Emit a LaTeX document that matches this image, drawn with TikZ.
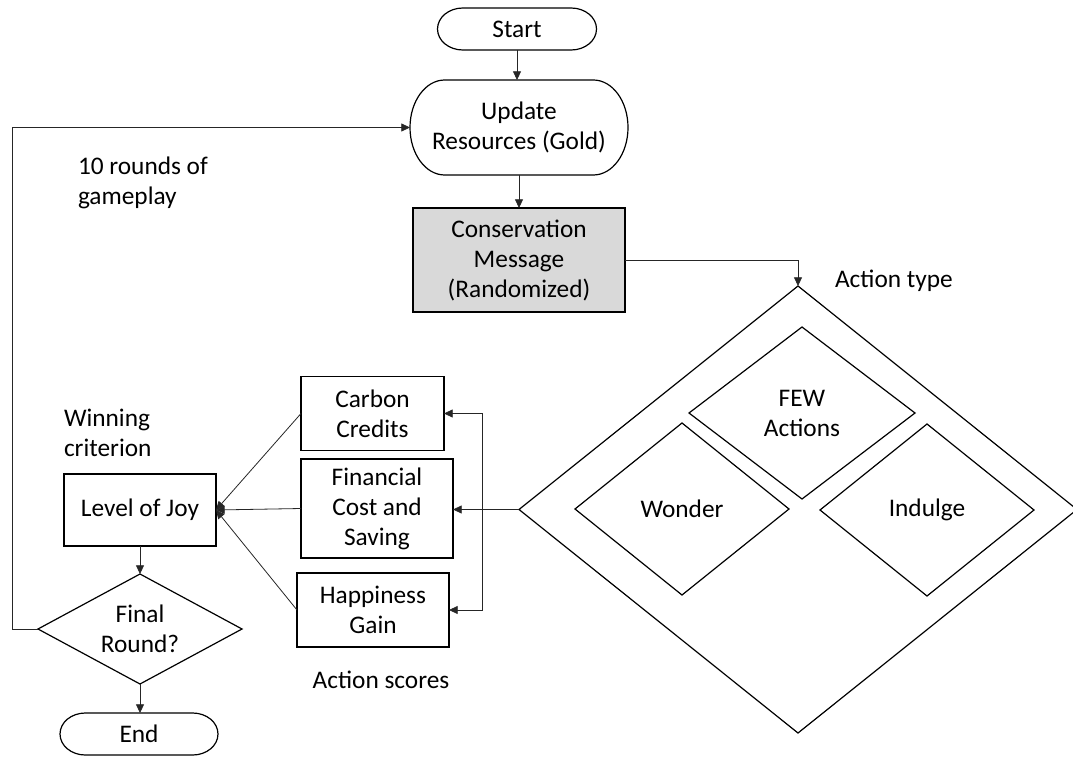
\documentclass[tikz,border=0pt]{standalone}
\usepackage{fontspec}
\setmainfont{Carlito}
\usetikzlibrary{shapes.geometric,arrows.meta,calc}
\definecolor{msgfill}{HTML}{D9D9D9}
\newcommand\termdraw[3]{%
  \draw[shp] ([xshift=#2]#1.north west) -- ([xshift=-#2]#1.north east)
    arc[start angle=90,end angle=-90,x radius=#2,y radius=#3]
    -- ([xshift=#2]#1.south west)
    arc[start angle=270,end angle=90,x radius=#2,y radius=#3] -- cycle;}
\begin{document}
\begin{tikzpicture}[x=0.75pt,y=-0.75pt,
  every node/.style={font=\fontsize{19}{22.5}\selectfont, align=center, inner sep=0pt, outer sep=0pt},
  shp/.style={draw=black, line width=0.9pt},
  rbox/.style={shp, rectangle},
  term/.style={rectangle},
  dia/.style={shp, diamond},
  conn/.style={line width=0.6pt, draw=black!85},
  arr/.style={conn, -{Triangle[length=6.5pt,width=6pt]}},
  lbl/.style={align=left}
]
\useasboundingbox (0,0) rectangle (1073,756);

% terminals and boxes
\node[term, minimum width=119.25pt, minimum height=31.5pt] (start) at (517,29) {Start};
\termdraw{start}{19pt}{15.75pt}
\node[term, minimum width=163.5pt, minimum height=71.25pt] (upd) at (519,127.5) {Update\\Resources (Gold)};
\termdraw{upd}{26pt}{35.625pt}
\node[rbox, fill=msgfill, minimum width=159pt, minimum height=78pt] (msg) at (519,260) {Conservation\\Message\\(Randomized)};

% action type diamond
\node[dia, minimum width=418.5pt, minimum height=335.25pt] (act) at (798,509.5) {};
\node[dia, shape aspect=1.3, minimum width=169.5pt, minimum height=129pt] (few) at (802,413) {FEW\\Actions};
\node[dia, shape aspect=1.25, minimum width=160.5pt, minimum height=129pt] (wonder) at (682,509) {Wonder};
\node[dia, shape aspect=1.25, minimum width=160.5pt, minimum height=129pt] (indulge) at (927,510) {Indulge};
\node[anchor=west] (atype) at (835,281) {Action type};

% score boxes
\node[rbox, minimum width=107.25pt, minimum height=55.5pt] (carb) at (372.5,413.5) {Carbon\\Credits};
\node[rbox, minimum width=114pt, minimum height=74.25pt] (fin) at (377,508.5) {Financial\\Cost and\\Saving};
\node[rbox, minimum width=114pt, minimum height=55.5pt] (happy) at (373,610) {Happiness\\Gain};
\node (ascore) at (381,680) {Action scores};

% left column
\node[lbl, anchor=west] (rounds) at (78,183) {10 rounds of\\gameplay};
\node[lbl, anchor=west] (win) at (64,433) {Winning\\criterion};
\node[rbox, minimum width=114pt, minimum height=54pt] (joy) at (140,510) {Level of Joy};
\node[dia, shape aspect=1.85, minimum width=153pt, minimum height=82.5pt] (final) at (140,629) {Final\\Round?};
\node[term, minimum width=118.5pt, minimum height=31.5pt] (endn) at (139,734) {End};
\termdraw{endn}{19pt}{15.75pt}

% connectors
\draw[arr] (start.south) -- (start.south |- upd.north);
\draw[arr] (upd.south) -- (msg.north);
\draw[arr] (msg.east) -| (act.north);
\draw[arr] (act.west) -- (act.west -| fin.east);
\coordinate (br) at (482,509.5);
\draw[arr] (br) |- (carb.east);
\draw[arr] (br) |- (happy.east);
\draw[arr] (carb.west) -- (joy.east);
\draw[arr] (fin.west) -- (joy.east);
\draw[arr] (happy.west) -- (joy.east);
\draw[arr] (joy.south) -- (final.north);
\draw[arr] (final.south) -- (final.south |- endn.north);
\coordinate (loopc) at (12,629);
\draw[arr] (final.west) -- (loopc) |- (upd.west);
\end{tikzpicture}
\end{document}
